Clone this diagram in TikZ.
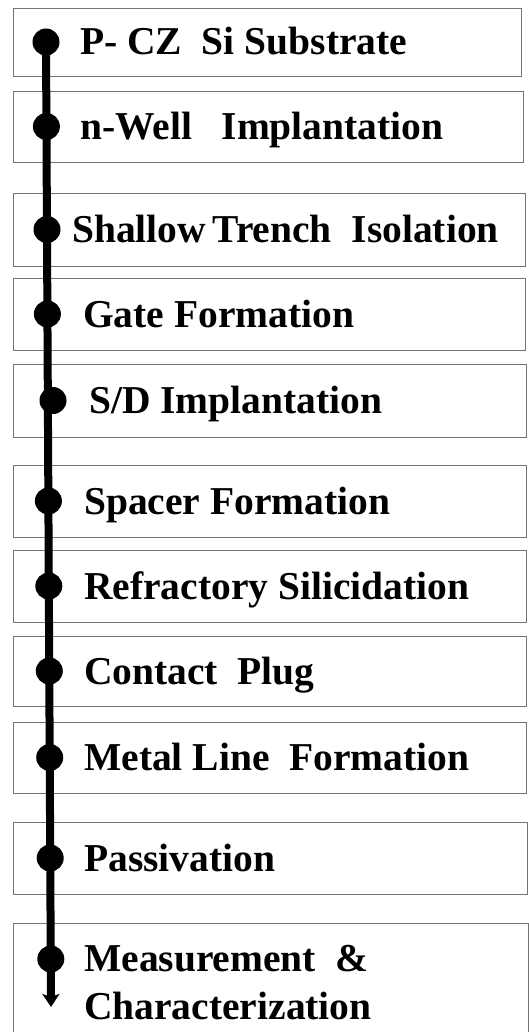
\documentclass[tikz,border=0pt]{standalone}
\usepackage{fontspec}
\setmainfont{Liberation Serif}
\usetikzlibrary{arrows.meta}

\begin{document}
\begin{tikzpicture}[x=1pt, y=-1pt,
    stepbox/.style={draw=black!55, line width=0.9pt},
    steptext/.style={anchor=base west, inner sep=0pt, font=\fontsize{39.5}{48}\selectfont\bfseries},
    dot/.style={circle, fill=black, inner sep=0pt, minimum size=27pt}]
    \useasboundingbox (0,0) rectangle (529,1032);

    % Process step boxes (top / bottom / right edge)
    \foreach \t/\b/\r in {8/76/521, 91/162/523, 193/266/525, 278/350/525, 364/437/526,
        465/537/526, 550/622/526, 636/706/526, 722/793/526, 822/894/527, 923/1045/528}
        \draw[stepbox] (13,\t) rectangle (\r,\b);

    % Step labels
    \node[steptext] (s1) at (80,55) {P-~CZ~~Si Substrate};
    \node[steptext] (s2) at (80,139.5) {n-Well~~~Implantation};
    \node[steptext] (s3) at (72,242.5) {Shallow\,Trench~~Isolation};
    \node[steptext] (s4) at (83,327) {Gate Formation};
    \node[steptext] (s5) at (89,413.5) {S/D Implantation};
    \node[steptext] (s6) at (84,514) {Spacer Formation};
    \node[steptext] (s7) at (84,599) {Refractory Silicidation};
    \node[steptext] (s8) at (84,684) {Contact~~Plug};
    \node[steptext] (s9) at (84,770.5) {Metal Line~~Formation};
    \node[steptext] (s10) at (84,871) {Passivation};
    \node[steptext, anchor=west, align=left] (s11) at (84,983) {Measurement~~\&\\Characterization};

    % Flow markers
    \foreach \x/\y [count=\i] in {46/42, 46.4/126.5, 47/229.5, 47.4/314, 53/400.5,
        48.4/501, 48.8/586, 49.3/671, 49.7/757.5, 50.2/858, 50.8/959}
        \node[dot] (d\i) at (\x,\y) {};

    % Flow line
    \coordinate (end) at (51,1007);
    \draw[line width=8pt, -{Stealth[length=13pt, width=17pt, inset=3pt]}] (d1.center) -- (end);
\end{tikzpicture}
\end{document}
